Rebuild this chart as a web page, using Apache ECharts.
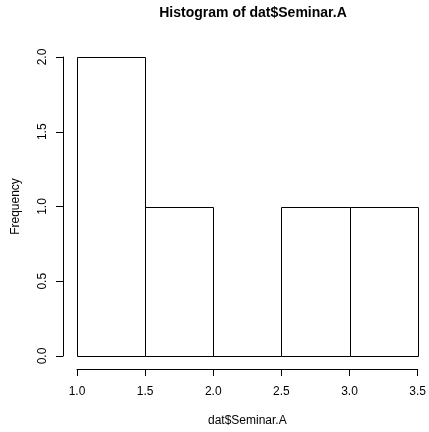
<!DOCTYPE html>
<html>
<head>
<meta charset="utf-8">
<script src="https://cdn.jsdelivr.net/npm/echarts@6/dist/echarts.min.js"></script>
<style>
  html, body { margin: 0; padding: 0; background: #fff; }
  #chart { width: 429px; height: 432px; }
</style>
</head>
<body>
<div id="chart"></div>
<script>
// Histogram bins (break points) and the count in each bin
const breaks = [1.0, 1.5, 2.0, 2.5, 3.0, 3.5];
const counts = [2, 1, 0, 1, 1];
const xTicks = [1.0, 1.5, 2.0, 2.5, 3.0, 3.5];
const yTicks = [0.0, 0.5, 1.0, 1.5, 2.0];

const FONT = '"Liberation Sans", Arial, Helvetica, sans-serif';

const bins = counts.map((c, i) => [breaks[i], breaks[i + 1], c]);

const chart = echarts.init(document.getElementById('chart'), null, { renderer: 'canvas' });

chart.setOption({
  animation: false,
  backgroundColor: '#ffffff',
  title: {
    text: 'Histogram of dat$Seminar.A',
    left: 248,
    top: 1,
    textAlign: 'center',
    textStyle: { fontFamily: FONT, fontSize: 14, fontWeight: 'bold', color: '#000' }
  },
  grid: { left: 77, right: 10, top: 57, bottom: 74 },
  xAxis: {
    type: 'value',
    min: xTicks[0],
    max: xTicks[xTicks.length - 1],
    interval: 0.5,
    offset: 13,
    name: 'dat$Seminar.A',
    nameLocation: 'middle',
    nameGap: 46,
    nameTextStyle: { fontFamily: FONT, fontSize: 12, color: '#000' },
    axisLine: { show: true, onZero: false, lineStyle: { color: '#000', width: 1 } },
    axisTick: { show: true, length: 7, lineStyle: { color: '#000', width: 1 } },
    axisLabel: {
      fontFamily: FONT, fontSize: 12, color: '#000', margin: 17,
      showMinLabel: true, showMaxLabel: true,
      formatter: v => v.toFixed(1)
    },
    splitLine: { show: false }
  },
  yAxis: {
    type: 'value',
    min: yTicks[0],
    max: yTicks[yTicks.length - 1],
    interval: 0.5,
    offset: 14,
    name: 'Frequency',
    nameLocation: 'middle',
    nameGap: 41,
    nameRotate: 90,
    nameTextStyle: { fontFamily: FONT, fontSize: 12, color: '#000' },
    axisLine: { show: true, onZero: false, lineStyle: { color: '#000', width: 1 } },
    axisTick: { show: true, length: 7, lineStyle: { color: '#000', width: 1 } },
    axisLabel: {
      fontFamily: FONT, fontSize: 12, color: '#000', margin: 14, rotate: 90,
      formatter: v => v.toFixed(1)
    },
    splitLine: { show: false }
  },
  series: [{
    type: 'custom',
    data: bins,
    renderItem: function (params, api) {
      const p0 = api.coord([api.value(0), 0]);
      const p1 = api.coord([api.value(1), api.value(2)]);
      return {
        type: 'rect',
        shape: {
          x: Math.round(p0[0]) + 0.5,
          y: Math.round(p1[1]) + 0.5,
          width: Math.round(p1[0]) - Math.round(p0[0]),
          height: Math.round(p0[1]) - Math.round(p1[1])
        },
        style: { fill: '#ffffff', stroke: '#000000', lineWidth: 1 }
      };
    }
  }]
});
</script>
</body>
</html>
